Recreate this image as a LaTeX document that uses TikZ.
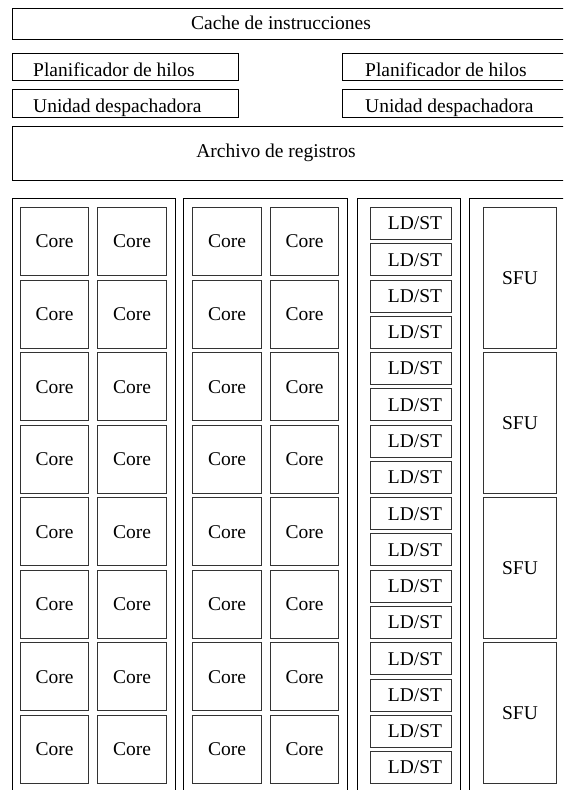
\documentclass[tikz,border=0pt]{standalone}
\usepackage{fontspec}
\setmainfont{Liberation Serif}
\begin{document}
\begin{tikzpicture}[x=1pt,y=-1pt,
  every node/.style={font=\fontsize{19.5}{22}\selectfont},
  frame/.style={draw=black, line width=1pt, rectangle, inner sep=0pt, anchor=north west},
  unit/.style={draw=black!80, line width=1pt, rectangle, inner sep=0pt, anchor=north west},
  tag/.style={inner sep=0pt, anchor=center}
]
\useasboundingbox (0,0) rectangle (563,790);
\clip (0,0) rectangle (563,790);

% front end: cache, schedulers, dispatch units and register file
\node[frame, minimum width=570pt, minimum height=31.5pt] (cache) at (12,7.5) {};
\node[tag] (cachelbl) at (281,23) {Cache de instrucciones};

\node[frame, minimum width=226pt, minimum height=27pt] (sched1) at (12,53) {};
\node[tag, anchor=base west] (sched1lbl) at (33,76) {Planificador de hilos};
\node[frame, minimum width=240pt, minimum height=27pt] (sched2) at (342,53) {};
\node[tag, anchor=base west] (sched2lbl) at (365,76) {Planificador de hilos};

\node[frame, minimum width=226pt, minimum height=28pt] (disp1) at (12,89) {};
\node[tag, anchor=base west] (disp1lbl) at (33,112) {Unidad despachadora};
\node[frame, minimum width=240pt, minimum height=28pt] (disp2) at (342,89) {};
\node[tag, anchor=base west] (disp2lbl) at (365,112) {Unidad despachadora};

\node[frame, minimum width=570pt, minimum height=54pt] (regs) at (12,126) {};
\node[tag] (regslbl) at (276,153) {Archivo de registros};

% column frames
\node[frame, minimum width=163pt, minimum height=620pt] (colA) at (12,198) {};
\node[frame, minimum width=164pt, minimum height=620pt] (colB) at (183,198) {};
\node[frame, minimum width=103pt, minimum height=620pt] (colC) at (357,198) {};
\node[frame, minimum width=120pt, minimum height=620pt] (colD) at (469,198) {};

% cores: two columns of 2x8
\foreach \i in {0,...,7} {
  \pgfmathsetmacro{\yy}{207+\i*72.57}
  \node[unit, minimum width=68pt, minimum height=68pt] (coreA\i) at (20,\yy) {Core};
  \node[unit, minimum width=69pt, minimum height=68pt] (coreB\i) at (97,\yy) {Core};
  \node[unit, minimum width=69pt, minimum height=68pt] (coreC\i) at (192,\yy) {Core};
  \node[unit, minimum width=68pt, minimum height=68pt] (coreD\i) at (270,\yy) {Core};
}

% load/store units
\foreach \j in {0,...,15} {
  \pgfmathsetmacro{\yy}{207+\j*36.27}
  \node[unit, minimum width=81pt, minimum height=32pt] (ldst\j) at (370,\yy) {\hspace*{8pt}LD/ST};
}

% special function units
\foreach \k in {0,...,3} {
  \pgfmathsetmacro{\yy}{207+\k*145}
  \node[unit, minimum width=73pt, minimum height=141pt] (sfu\k) at (483,\yy) {SFU};
}
\end{tikzpicture}
\end{document}
